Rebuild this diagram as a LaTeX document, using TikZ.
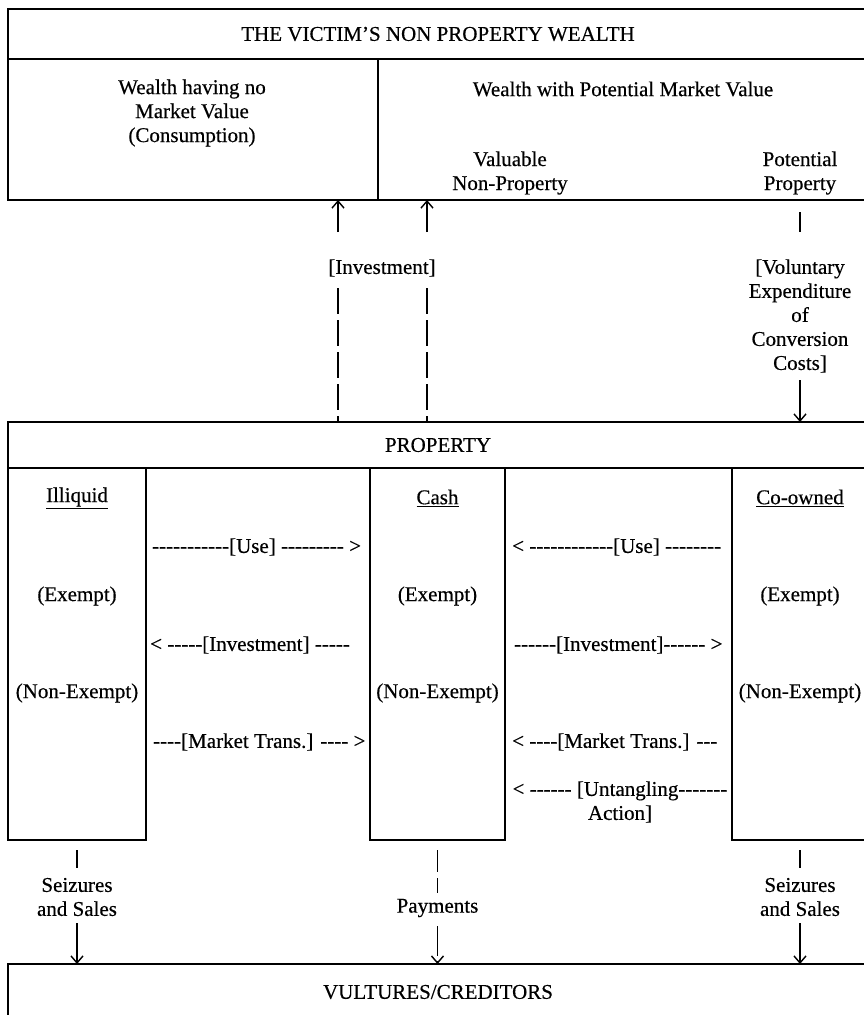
\documentclass[tikz,border=0pt]{standalone}
\usepackage{fontspec}
\newfontfamily\diagfont{Liberation Serif}[FakeBold=0.4]
\usetikzlibrary{arrows.meta}

\begin{document}
\begin{tikzpicture}[x=1pt,y=-1pt,
    font=\diagfont\fontsize{21}{24}\selectfont,
    every node/.style={inner sep=0pt,align=center},
    box/.style={draw,line width=1.4pt,outer sep=0pt},
    link/.style={line width=1.4pt},
    flow/.style={line width=1.4pt,-{Straight Barb[length=7pt,width=12pt]}},
    broken/.style={dash pattern=on 26pt off 6pt}]
  \useasboundingbox (0,0) rectangle (863,1015);
  %%%%% THE BOXES
  \node[box,anchor=north west,minimum width=860pt,minimum height=50pt] (VICTIM) at (8,9) {THE VICTIM’S NON PROPERTY WEALTH};
  \node[box,anchor=north west,minimum width=370pt,minimum height=141pt] (NOMARKET) at (VICTIM.south west) {};
  \node[box,anchor=north west,minimum width=490pt,minimum height=141pt] (MARKET) at (NOMARKET.north east) {};
  \node[box,anchor=north west,minimum width=860pt,minimum height=46pt] (PROPERTY) at (8,422) {PROPERTY};
  \node[box,anchor=north west,minimum width=138pt,minimum height=372pt] (ILLIQUID) at (PROPERTY.south west) {};
  \node[box,anchor=north west,minimum width=135pt,minimum height=372pt] (CASH) at (370,468) {};
  \node[box,anchor=north west,minimum width=136pt,minimum height=372pt] (COOWNED) at (732,468) {};
  \node[box,anchor=north west,minimum width=860pt,minimum height=80pt] (CREDITORS) at (8,964) {};
  \node (CREDITORSTXT) at (438,992) {VULTURES/CREDITORS};
  %%%%% NON PROPERTY WEALTH
  \node (NOMARKETTXT) at (192,113) {Wealth having no\\Market Value\\(Consumption)};
  \node (MARKETTXT) at (623,89) {Wealth with Potential Market Value};
  \node (VALUABLE) at (510,173) {Valuable\\Non-Property};
  \node (POTENTIAL) at (800,173) {Potential\\Property};
  %%%%% PROPERTY COLUMNS
  \foreach \col/\name in {ILLIQUID/Illiquid,CASH/Cash,COOWNED/Co-owned} {
    \node (\col-head) at ([yshift=-30pt]\col.north) {\underline{\name}};
    \node (\col-ex) at ([yshift=-128pt]\col.north) {(Exempt)};
    \node (\col-nonex) at ([yshift=-225pt]\col.north) {(Non-Exempt)};
  }
  % transfers between the columns
  \node[anchor=west] (USEL) at (152,547) {-----------[Use] --------- >};
  \node[anchor=west] (INVESTL) at (150,645) {< -----[Investment] -----};
  \node[anchor=west] (MARKETL) at (153,742) {----[Market Trans.] ---- >};
  \node[anchor=west] (USER) at (512,547) {< ------------[Use] --------};
  \node[anchor=west] (INVESTR) at (514,645) {------[Investment]------ >};
  \node[anchor=west] (MARKETR) at (512,742) {< ----[Market Trans.] ---};
  \node (UNTANGLE) at (620,802) {< ------ [Untangling-------\\Action]};
  %%%%% LINKS BETWEEN THE BOXES
  \node (INVEST) at (382,268) {[Investment]};
  \coordinate (INVL) at (338,232);
  \coordinate (INVR) at (427,232);
  \coordinate (INVLD) at (338,288);
  \coordinate (INVRD) at (427,288);
  \draw[flow] (INVL) -- (INVL |- NOMARKET.south);
  \draw[flow] (INVR) -- (INVR |- MARKET.south);
  \draw[link,broken] (INVLD) -- (INVLD |- PROPERTY.north);
  \draw[link,broken] (INVRD) -- (INVRD |- PROPERTY.north);
  \node (VOLUNTARY) at (800,316) {[Voluntary\\Expenditure\\of\\Conversion\\Costs]};
  \coordinate (VOLA) at (800,212);
  \coordinate (VOLB) at (800,232);
  \coordinate (VOLC) at (800,380);
  \draw[link] (VOLA) -- (VOLB);
  \draw[flow] (VOLC) -- (VOLC |- PROPERTY.north);
  % to the creditors
  \node (SEIZEL) at (77,897) {Seizures\\and Sales};
  \node (PAY) at (437.5,908) {Payments};
  \node (SEIZER) at (800,897) {Seizures\\and Sales};
  \foreach \lnk in {SEIZEL,SEIZER} {
    \draw[link] ([yshift=-10pt]\lnk.north |- ILLIQUID.south) -- ([yshift=-28pt]\lnk.north |- ILLIQUID.south);
    \draw[flow] ([yshift=-7pt]\lnk.south) -- (\lnk.south |- CREDITORS.north);
  }
  \draw[link,dash pattern=on 22pt off 6pt] ([yshift=-10pt]CASH.south) -- ([yshift=6pt]PAY.north);
  \draw[flow,dash pattern=on 30pt off 5pt] ([yshift=-9pt]PAY.south) -- (PAY.south |- CREDITORS.north);
\end{tikzpicture}
\end{document}
